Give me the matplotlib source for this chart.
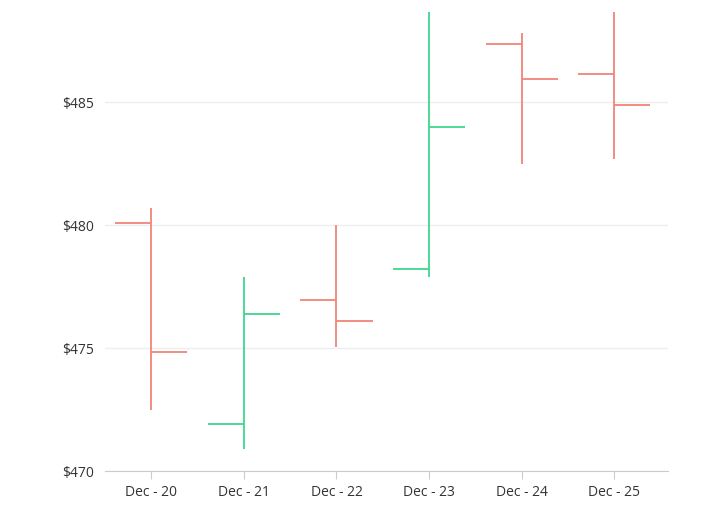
import matplotlib
matplotlib.use("Agg")
import matplotlib.pyplot as plt

dates = ["Dec - 20", "Dec - 21", "Dec - 22", "Dec - 23", "Dec - 24", "Dec - 25"]
opens = [480.1, 471.9, 476.95, 478.2, 487.35, 486.15]
highs = [480.7, 477.9, 480.0, 488.65, 487.8, 488.65]
lows = [472.5, 470.9, 475.05, 477.9, 482.5, 482.7]
closes = [474.85, 476.4, 476.1, 484.0, 485.95, 484.9]
yticks = [470, 475, 480, 485]

plt.rcParams['font.family'] = ['Open Sans', 'DejaVu Sans']
fig = plt.figure(figsize=(7.16, 5.24), dpi=100)
ax = fig.add_axes([105/716, 1-471/524, (668-105)/716, (471-10)/524])
up, down = "#3fd68c", "#f2857a"
w = 0.39
for i, (o, h, l, c) in enumerate(zip(opens, highs, lows, closes)):
    col = up if c >= o else down
    ax.vlines(i, l, h, color=col, lw=1.3)
    ax.hlines(o, i - w, i, color=col, lw=1.3)
    ax.hlines(c, i, i + w, color=col, lw=1.3)

ax.set_xlim(-0.5, 5.58)
ax.set_ylim(470, 488.75)
ax.set_xticks(range(len(dates)))
ax.set_xticklabels(dates, fontsize=10, color="#333333")
ax.set_yticks(yticks)
ax.set_yticklabels([f"${v}" for v in yticks], fontsize=10, color="#333333")
ax.grid(axis="y", color="#eeeeee", lw=1)
ax.set_axisbelow(True)
for s in ["top", "right", "left"]:
    ax.spines[s].set_visible(False)
ax.spines["bottom"].set_color("#cccccc")
ax.tick_params(axis="y", length=0, pad=8)
ax.tick_params(axis="x", length=6, color="#cccccc", pad=4)
fig.savefig("out.png", dpi=100)
